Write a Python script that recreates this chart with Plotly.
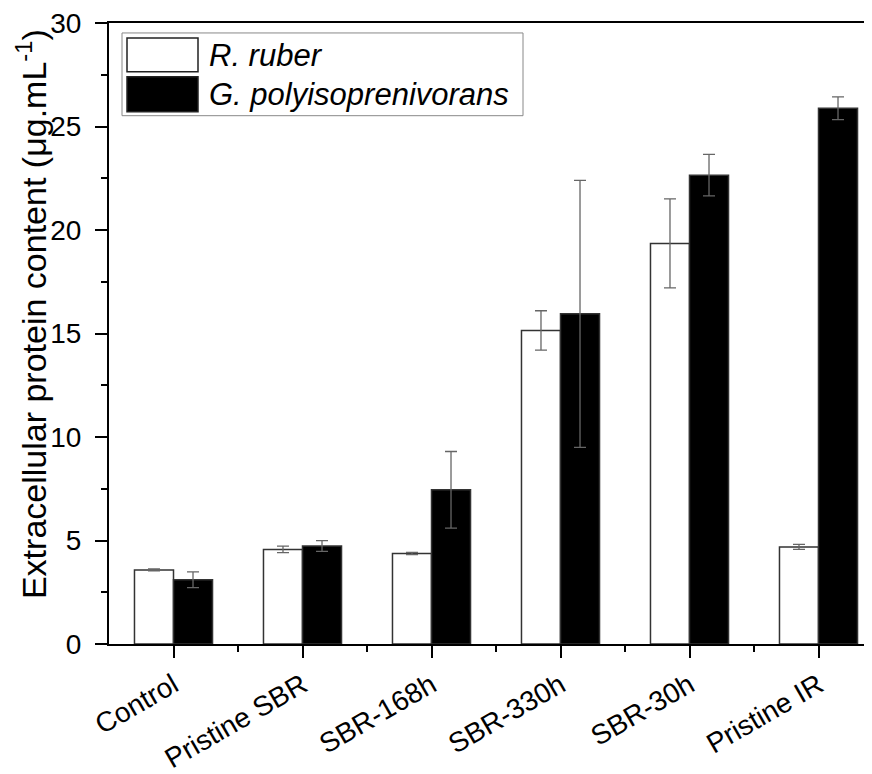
import plotly.graph_objects as go

categories = ["Control", "Pristine SBR", "SBR-168h", "SBR-330h", "SBR-30h", "Pristine IR"]
series_names = ["R. ruber", "G. polyisoprenivorans"]
r_ruber = [3.58, 4.57, 4.37, 15.15, 19.35, 4.69]
r_ruber_err = [0.05, 0.16, 0.05, 0.95, 2.15, 0.12]
g_poly = [3.10, 4.73, 7.45, 15.95, 22.65, 25.88]
g_poly_err = [0.38, 0.26, 1.85, 6.45, 1.0, 0.55]
y_ticks = [0, 5, 10, 15, 20, 25, 30]
y_minor = [2.5, 7.5, 12.5, 17.5, 22.5, 27.5]
y_title = "Extracellular protein content (μg.mL<sup>-1</sup>)"

FONT = "Liberation Sans, Arial, sans-serif"
x_idx = list(range(len(categories)))

fig = go.Figure()
fig.add_trace(go.Bar(
    x=x_idx, y=r_ruber, name=series_names[0],
    marker=dict(color="white", line=dict(color="#333333", width=1.5)),
    error_y=dict(type="data", array=r_ruber_err, visible=True, color="#666666", thickness=1.3, width=6),
    showlegend=False,
))
fig.add_trace(go.Bar(
    x=x_idx, y=g_poly, name=series_names[1],
    marker=dict(color="black", line=dict(color="#333333", width=1.5)),
    error_y=dict(type="data", array=g_poly_err, visible=True, color="#666666", thickness=1.3, width=6),
    showlegend=False,
))

# page body has an 8px margin; plot area on screen: x 109-872, y 22-645
BODY = 8
L, T, B, R = 109, 22, 645, 872
W_PLOT = R - L
H_PLOT = B - T
def px(x):
    return (x - L) / W_PLOT
def py(y):
    return (B - y) / H_PLOT

shapes = [
    dict(type="rect", xref="paper", yref="paper", x0=px(122), x1=px(523), y0=py(115), y1=py(32),
         line=dict(color="#888888", width=1), fillcolor="white", layer="above"),
    dict(type="rect", xref="paper", yref="paper", x0=px(127), x1=px(198), y0=py(71), y1=py(37),
         line=dict(color="#222222", width=1.5), fillcolor="white", layer="above"),
    dict(type="rect", xref="paper", yref="paper", x0=px(127), x1=px(198), y0=py(111), y1=py(76),
         line=dict(color="#222222", width=1.5), fillcolor="black", layer="above"),
]
annotations = [
    dict(xref="paper", yref="paper", x=px(207), y=py(55), xanchor="left", yanchor="middle",
         text="<i>%s</i>" % series_names[0], showarrow=False, font=dict(family=FONT, size=31, color="black")),
    dict(xref="paper", yref="paper", x=px(207), y=py(94), xanchor="left", yanchor="middle",
         text="<i>%s</i>" % series_names[1], showarrow=False, font=dict(family=FONT, size=31, color="black")),
    dict(xref="paper", yref="paper", x=px(31), y=py(314), xanchor="center", yanchor="middle",
         textangle=-90, text=y_title, showarrow=False,
         font=dict(family=FONT, size=34, color="black")),
]

fig.update_layout(
    width=872 - BODY, height=774 - BODY,
    margin=dict(l=L - BODY, r=0, t=T - BODY, b=774 - B),
    plot_bgcolor="white", paper_bgcolor="white",
    barmode="group", bargap=0.395, bargroupgap=0,
    font=dict(family=FONT, color="black"),
    shapes=shapes, annotations=annotations,
    xaxis=dict(
        range=[-0.5, -0.5 + W_PLOT / 129.0],
        tickmode="array", tickvals=x_idx, ticktext=categories,
        tickangle=-30, tickfont=dict(size=28, family=FONT),
        ticks="outside", ticklen=12, tickwidth=2, tickcolor="black",
        minor=dict(tickmode="array", tickvals=[i + 0.5 for i in x_idx], ticks="outside",
                   ticklen=6, tickwidth=2, tickcolor="black"),
        showline=True, linecolor="black", linewidth=2, mirror=True,
        showgrid=False, zeroline=False,
    ),
    yaxis=dict(
        range=[0, 30],
        tickmode="array", tickvals=y_ticks,
        tickfont=dict(size=28, family=FONT),
        ticks="outside", ticklen=12, tickwidth=2, tickcolor="black",
        ticklabelstandoff=8, ticklabeloverflow="allow",
        minor=dict(tickmode="array", tickvals=y_minor, ticks="outside",
                   ticklen=6, tickwidth=2, tickcolor="black"),
        showline=True, linecolor="black", linewidth=2,
        showgrid=False, zeroline=False,
    ),
)

fig.write_html("out.html")
